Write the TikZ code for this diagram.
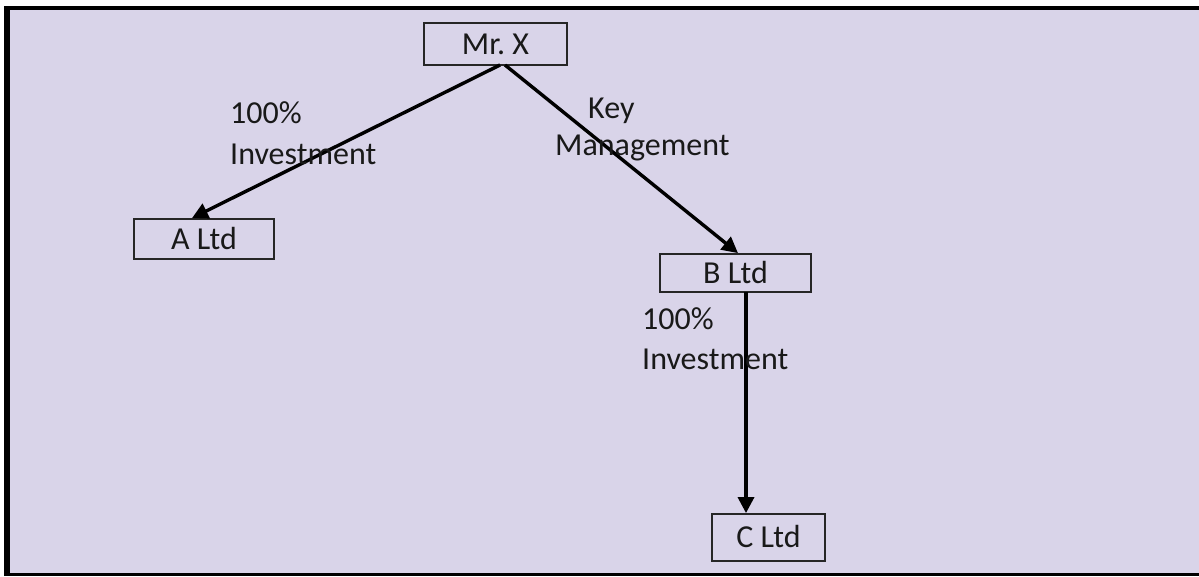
\documentclass[tikz,border=0pt]{standalone}
\usepackage{fontspec}
\setmainfont{Carlito}
\usetikzlibrary{arrows.meta}
\definecolor{panel}{HTML}{D9D4E9}
\begin{document}
\begin{tikzpicture}[x=1pt,y=-1pt,
  txt/.style={font=\fontsize{32}{38}\selectfont, text=black!90},
  box/.style={txt, draw=black!85, line width=1.8pt, inner sep=0pt, text height=20pt, text depth=0pt},
  lbl/.style={txt, anchor=base west, inner sep=0pt},
  arr/.style={line width=3.4pt, -{Triangle[length=16pt,width=16pt]}}]
\useasboundingbox (0,0) rectangle (1199,576);
\fill[white] (0,0) rectangle (1199,576);
\fill[panel] (10,10) rectangle (1199,573);
\fill[black] (4,6) rectangle (10,576);
\fill[black] (4,6) rectangle (1199,10);
\fill[black] (4,573) rectangle (1199,576);
\node[box, minimum width=143pt, minimum height=42pt] (mrx) at (495.5,44) {Mr.\ X};
\node[box, minimum width=140pt, minimum height=40pt] (altd) at (204,239) {A Ltd};
\node[box, minimum width=151pt, minimum height=38pt] (bltd) at (735.5,273) {B Ltd};
\node[box, minimum width=113pt, minimum height=47pt] (cltd) at (768.5,537.5) {C Ltd};
\coordinate (s1) at (500,65);
\coordinate (s2) at (505,65);
\coordinate (s3) at (746,292);
\draw[arr] (s1) -- (altd.north -| 192,0);
\draw[arr] (s2) -- (bltd.north -| 738,0);
\draw[arr] (s3) -- (cltd.north -| 746,0);
\node[lbl] (l1) at (230,123) {100\%};
\node[lbl] (l2) at (230,164) {Investment};
\node[lbl] (l3) at (588,118) {Key};
\node[lbl] (l4) at (555,155) {Management};
\node[lbl] (l5) at (642,329) {100\%};
\node[lbl] (l6) at (642,369) {Investment};
\end{tikzpicture}
\end{document}
